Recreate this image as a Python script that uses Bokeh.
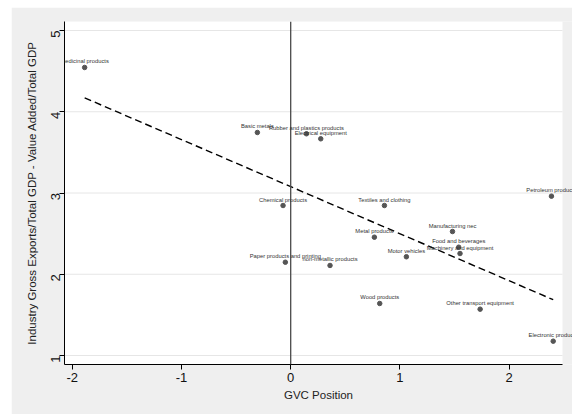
import math
import numpy as np
from bokeh.plotting import figure, ColumnDataSource
from bokeh.models import Span, FixedTicker, Range1d, Label, BoxAnnotation
from bokeh.embed import file_html
from bokeh.resources import INLINE

# Industries: GVC position vs. (gross exports - value added) share of GDP
industries = [
    "medicinal products", "Basic metals", "Rubber and plastics products",
    "Electrical equipment", "Chemical products", "Textiles and clothing",
    "Metal products", "Paper products and printing", "non-metallic products",
    "Motor vehicles", "Wood products", "Petroleum products",
    "Manufacturing nec", "Food and beverages", "Machinery and equipment",
    "Other transport equipment", "Electronic products",
]
gvc_position = [-1.886, -0.305, 0.144, 0.275, -0.070, 0.858, 0.766, -0.049,
                0.360, 1.059, 0.815, 2.387, 1.481, 1.538, 1.550, 1.734, 2.403]
export_gap = [4.545, 3.745, 3.729, 3.667, 2.846, 2.846, 2.456, 2.148,
              2.108, 2.215, 1.640, 2.961, 2.526, 2.333, 2.255, 1.570, 1.176]

x_ticks = [-2, -1, 0, 1, 2]
y_ticks = [1, 2, 3, 4, 5]

FONT = "Liberation Sans"
BG = "#efefef"

# plot region; the frame runs a little further right so that
# marker labels near the right edge can spill into the margin
X0, X1 = -2.0705, 2.488
Y0, Y1 = 0.889, 5.111
PX = 109.25  # pixels per x unit

p = figure(
    width=561, height=407,
    x_range=Range1d(X0, X1 + 10 / PX), y_range=Range1d(Y0, Y1),
    output_backend="svg", toolbar_location=None,
    background_fill_color=BG, border_fill_color=BG,
    min_border_left=53, min_border_right=0, min_border_top=14, min_border_bottom=50,
)
p.margin = (7, 0, 0, 11)
p.outline_line_color = None

# white plotting area
p.add_layout(BoxAnnotation(left=X0, right=X1, fill_color="white", fill_alpha=1,
                           line_color=None, level="underlay"))

# axes
for ax in (p.xaxis[0], p.yaxis[0]):
    ax.axis_line_color = "black"
    ax.axis_line_width = 1
    ax.major_tick_line_color = "black"
    ax.major_tick_out = 5
    ax.major_tick_in = 0
    ax.minor_tick_line_color = None
    ax.major_label_text_font = FONT
    ax.major_label_text_font_size = "13px"
    ax.major_label_text_color = "#111111"
    ax.axis_label_text_font = FONT
    ax.axis_label_text_font_size = "11.5px"
    ax.axis_label_text_font_style = "normal"
    ax.axis_label_text_color = "#222222"

p.xaxis.bounds = (X0, X1)
p.xaxis.ticker = FixedTicker(ticks=x_ticks)
p.yaxis.ticker = FixedTicker(ticks=y_ticks)
p.xaxis.major_label_overrides = {t: str(t) for t in x_ticks}
p.yaxis.major_label_overrides = {t: str(t) for t in y_ticks}
p.xaxis.axis_label = "GVC Position"
p.yaxis.axis_label = "Industry Gross Exports/Total GDP - Value Added/Total GDP"
p.yaxis.major_label_orientation = math.pi / 2
p.xaxis.major_label_standoff = 3
p.yaxis.major_label_standoff = 4
p.xaxis.axis_label_standoff = 4
p.yaxis.axis_label_standoff = 6

# horizontal gridlines, limited to the plotting area
p.xgrid.grid_line_color = None
p.ygrid.grid_line_color = None
p.segment(x0=[X0] * len(y_ticks), x1=[X1] * len(y_ticks), y0=y_ticks, y1=y_ticks,
          line_color="#e6e6e6", line_width=1)

# reference line at zero
p.add_layout(Span(location=0, dimension="height", line_color="#4a4a4a", line_width=1.3))

src = ColumnDataSource(data=dict(x=gvc_position, y=export_gap, name=industries))

# linear fit
slope, intercept = np.polyfit(gvc_position, export_gap, 1)
fx = np.array([min(gvc_position), max(gvc_position)])
p.line(fx, intercept + slope * fx, line_color="black", line_width=1.4, line_dash="7 4")

p.scatter("x", "y", source=src, size=4.5, fill_color="#555555", line_color="#555555")

# marker labels, centred above each point
for gx, gy, name in zip(gvc_position, export_gap, industries):
    p.add_layout(Label(x=gx, y=gy, text=name, text_align="center",
                       text_baseline="middle", y_offset=6, text_font=FONT,
                       text_font_size="5.8px", text_color="#333333"))

open("out.html", "w").write(file_html(p, INLINE))
